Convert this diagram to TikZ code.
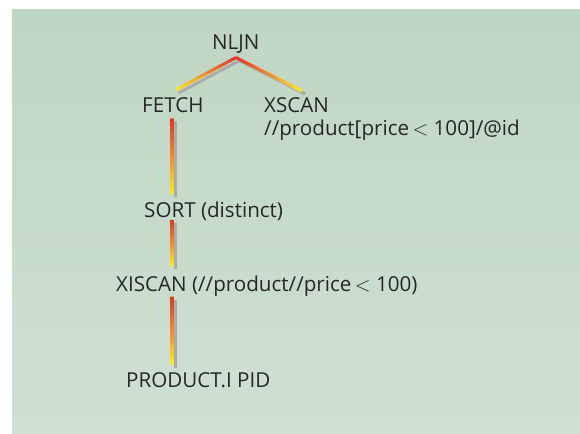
\documentclass[tikz,border=0pt]{standalone}
\usepackage{fontspec}
\setmainfont{Open Sans}
\usetikzlibrary{calc}

\definecolor{bgtop}{HTML}{BFD6C2}
\definecolor{bgmid}{HTML}{E2E9DE}
\definecolor{bgbot}{HTML}{CFE0D3}
\definecolor{wirered}{HTML}{DD3B2B}
\definecolor{wireorange}{HTML}{F0902E}
\definecolor{wireyellow}{HTML}{FCEF2A}
\definecolor{wireshadow}{HTML}{ABABAB}

\tikzset{
  op/.style={anchor=base west, inner xsep=0pt, inner ysep=2pt, text=black!85,
    font=\fontsize{20.6}{24}\selectfont},
  shadowline/.style={draw=wireshadow},
}

% red (top) to yellow (bottom) wire with a grey shadow
\newcommand\gradwire[3]{%
  \draw[shadowline, line width=3] ($(#1)+(3.5,3)$) -- ($(#2)+(3.5,3)$);
  \foreach \i in {0,...,19}{%
    \ifnum\i<10 \pgfmathtruncatemacro\p{100-10*\i}\colorlet{segc}{wirered!\p!wireorange}%
    \else \pgfmathtruncatemacro\p{200-10*\i}\colorlet{segc}{wireorange!\p!wireyellow}\fi
    \pgfmathsetmacro\e{min((\i+1.4)/20,1)}%
    \draw[segc, line width=#3] ($(#1)!\i/20!(#2)$) -- ($(#1)!\e!(#2)$);
  }}

\begin{document}
\begin{tikzpicture}[x=1pt,y=-1pt]
  \useasboundingbox (0,0) rectangle (580,433);
  \shade[top color=bgtop, middle color=bgmid, bottom color=bgbot] (12,10) rectangle (580,433);

  \node[op] (nljn) at (212,50) {NLJN};
  \node[op] (fetch) at (142,112) {FETCH};
  \node[op] (xscan) at (264,112) {XSCAN};
  \node[op] (xpath) at (264,135) {//product[price\,$<$ 100]/@id};
  \node[op] (sort) at (144,217) {SORT (distinct)};
  \node[op] (xiscan) at (116,291) {XISCAN (//product//price\,$<$ 100)};
  \node[op] (pid) at (126,387) {PRODUCT.I PID};

  \coordinate (apex) at ($(nljn.south)+(0,1.5)$);
  \coordinate (fetchtop) at ($(fetch.north)+(2.5,-5)$);
  \coordinate (xscantop) at ($(xscan.north)+(5,-4)$);
  \coordinate (fetchout) at ($(fetch.south)+(-1,4)$);
  \coordinate (sortin) at ($(fetchout |- sort.north)+(0,-5)$);
  \coordinate (sortout) at ($(fetchout |- sort.south)+(0,-2.5)$);
  \coordinate (xiscanin) at ($(fetchout |- xiscan.north)+(0,-7)$);
  \coordinate (xiscanout) at ($(fetchout |- xiscan.south)+(0,-1.5)$);
  \coordinate (pidin) at ($(fetchout |- pid.north)+(0,-5)$);

  \gradwire{apex}{fetchtop}{3}
  \gradwire{apex}{xscantop}{3}
  \gradwire{fetchout}{sortin}{4}
  \gradwire{sortout}{xiscanin}{4}
  \gradwire{xiscanout}{pidin}{4}
\end{tikzpicture}
\end{document}
